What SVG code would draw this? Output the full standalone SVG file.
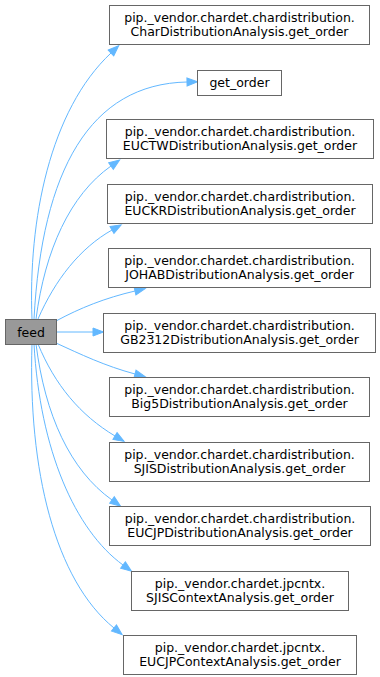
<svg xmlns="http://www.w3.org/2000/svg" width="380" height="677" viewBox="0 0 380 677">
  <style>
    .node rect { fill: #ffffff; stroke: #666666; stroke-width: 1; }
    .node.root rect { fill: #999999; }
    .node text { font-family: "DejaVu Sans", "Liberation Sans", sans-serif; font-size: 12.5px; fill: #000000; text-anchor: middle; }
    .edge { fill: none; stroke: #63b8ff; stroke-width: 1; }
  </style>
  <defs>
    <marker id="arrow" markerUnits="userSpaceOnUse" markerWidth="12" markerHeight="10" refX="0" refY="4" orient="auto" overflow="visible">
      <path d="M0,0 L10.5,4 L0,8 Z" fill="#63b8ff" stroke="#63b8ff" stroke-width="1"/>
    </marker>
  </defs>

  <!-- call edges from feed -->
  <g id="edges">
    <path class="edge" marker-end="url(#arrow)" d="M32,319 C28,220 50,110 111,53"/>
    <path class="edge" marker-end="url(#arrow)" d="M34,319 C42,170 90,84 187,82"/>
    <path class="edge" marker-end="url(#arrow)" d="M36,319 C45,250 70,195 111,166"/>
    <path class="edge" marker-end="url(#arrow)" d="M38,319 C55,280 80,248 112,230"/>
    <path class="edge" marker-end="url(#arrow)" d="M56,321 C80,308 105,298 135,291"/>
    <path class="edge" marker-end="url(#arrow)" d="M56,332 L93,332"/>
    <path class="edge" marker-end="url(#arrow)" d="M56,343 C80,354 105,366 135,374"/>
    <path class="edge" marker-end="url(#arrow)" d="M38,344 C55,385 80,415 115,436"/>
    <path class="edge" marker-end="url(#arrow)" d="M36,344 C45,415 70,470 112,500"/>
    <path class="edge" marker-end="url(#arrow)" d="M34,344 C40,450 75,530 123,565"/>
    <path class="edge" marker-end="url(#arrow)" d="M32,344 C28,470 55,580 114,628"/>
  </g>

  <g id="node-feed" class="node root">
    <rect x="5.5" y="319.5" width="51" height="25"/>
    <text x="31" y="336.5">feed</text>
  </g>

  <g id="node-chardistribution" class="node">
    <rect x="109.5" y="5.5" width="260" height="39"/>
    <text x="239.5" y="21.5">pip._vendor.chardet.chardistribution.</text>
    <text x="239.5" y="36">CharDistributionAnalysis.get_order</text>
  </g>

  <g id="node-get-order" class="node">
    <rect x="197.5" y="70.5" width="84" height="25"/>
    <text x="239.5" y="87">get_order</text>
  </g>

  <g id="node-euctw" class="node">
    <rect x="106.5" y="119.5" width="267" height="39"/>
    <text x="240" y="135.5">pip._vendor.chardet.chardistribution.</text>
    <text x="240" y="150">EUCTWDistributionAnalysis.get_order</text>
  </g>

  <g id="node-euckr" class="node">
    <rect x="107.5" y="184.5" width="265" height="39"/>
    <text x="240" y="200.5">pip._vendor.chardet.chardistribution.</text>
    <text x="240" y="215">EUCKRDistributionAnalysis.get_order</text>
  </g>

  <g id="node-johab" class="node">
    <rect x="108.5" y="248.5" width="262" height="39"/>
    <text x="239.5" y="264.5">pip._vendor.chardet.chardistribution.</text>
    <text x="239.5" y="279">JOHABDistributionAnalysis.get_order</text>
  </g>

  <g id="node-gb2312" class="node">
    <rect x="103.5" y="313.5" width="272" height="39"/>
    <text x="239.5" y="329.5">pip._vendor.chardet.chardistribution.</text>
    <text x="239.5" y="344">GB2312DistributionAnalysis.get_order</text>
  </g>

  <g id="node-big5" class="node">
    <rect x="109.5" y="377.5" width="260" height="39"/>
    <text x="239.5" y="393.5">pip._vendor.chardet.chardistribution.</text>
    <text x="239.5" y="408">Big5DistributionAnalysis.get_order</text>
  </g>

  <g id="node-sjis" class="node">
    <rect x="109.5" y="442.5" width="260" height="39"/>
    <text x="239.5" y="458.5">pip._vendor.chardet.chardistribution.</text>
    <text x="239.5" y="473">SJISDistributionAnalysis.get_order</text>
  </g>

  <g id="node-eucjp" class="node">
    <rect x="109.5" y="506.5" width="261" height="39"/>
    <text x="240" y="522.5">pip._vendor.chardet.chardistribution.</text>
    <text x="240" y="537">EUCJPDistributionAnalysis.get_order</text>
  </g>

  <g id="node-sjis-context" class="node">
    <rect x="131.5" y="571.5" width="217" height="39"/>
    <text x="240" y="587.5">pip._vendor.chardet.jpcntx.</text>
    <text x="240" y="602">SJISContextAnalysis.get_order</text>
  </g>

  <g id="node-eucjp-context" class="node">
    <rect x="123.5" y="635.5" width="233" height="39"/>
    <text x="240" y="651.5">pip._vendor.chardet.jpcntx.</text>
    <text x="240" y="666">EUCJPContextAnalysis.get_order</text>
  </g>
</svg>
